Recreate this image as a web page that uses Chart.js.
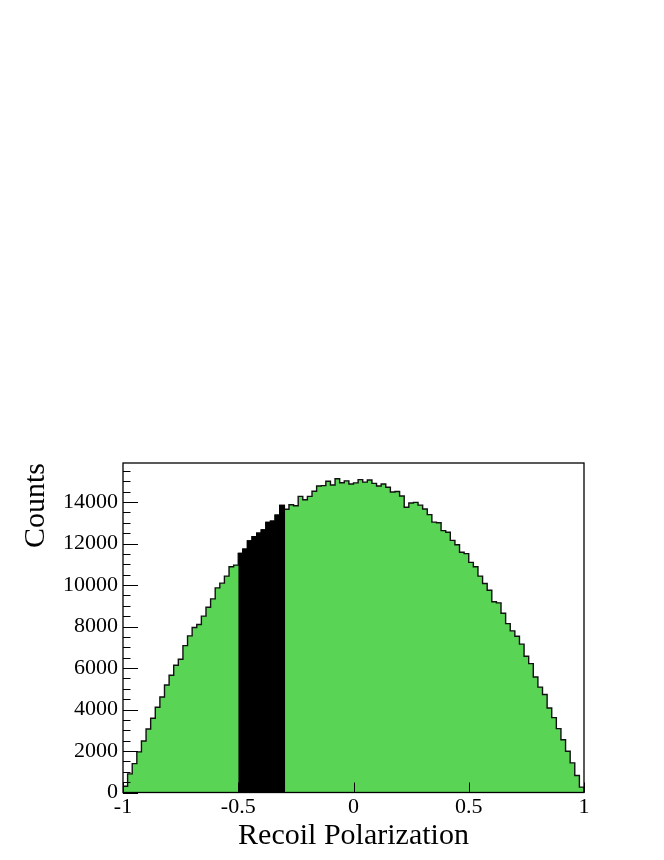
<!DOCTYPE html>
<html lang="en">
<head>
  <meta charset="UTF-8" />
  <title>Recoil Polarization</title>
  <script src="https://cdn.jsdelivr.net/npm/chart.js"></script>
  <style>
    html, body { margin: 0; padding: 0; background: #fff; }
    #wrap { width: 664px; height: 860px; }
  </style>
</head>
<body>
  <div id="wrap"><canvas id="histo" width="664" height="860"></canvas></div>

  <script>
    // histogram range and bin contents (100 bins from -1 to 1)
    const xRange = [-1, 1];
    const counts = [
      300, 900, 1390, 1960, 2480, 3060, 3580, 4110, 4600, 5180,
      5650, 6130, 6420, 7080, 7550, 7950, 8100, 8500, 8930, 9330,
      9860, 10090, 10430, 10880, 10960, 11520, 11720, 12120, 12330, 12500,
      12650, 13020, 13080, 13370, 13840, 13650, 13870, 13820, 14270, 14110,
      14270, 14520, 14770, 14790, 15000, 14820, 15120, 14930, 15020, 14870,
      14920, 15080, 14960, 15060, 14900, 14770, 14870, 14710, 14480, 14510,
      14290, 13750, 13950, 13980, 13850, 13660, 13390, 13030, 13000, 12620,
      12540, 12150, 11940, 11580, 11510, 11090, 10880, 10430, 10070, 9750,
      9190, 9140, 8640, 8140, 7790, 7530, 7150, 6570, 6210, 5570,
      5080, 4720, 4070, 3610, 3080, 2540, 1990, 1430, 820, 260
    ];
    // selected slice drawn in black
    const selRange = [-0.5, -0.3];

    const xTickValues = [-1, -0.5, 0, 0.5, 1];
    const xTickLabels = ['-1', '-0.5', '0', '0.5', '1'];
    const yTickValues = [0, 2000, 4000, 6000, 8000, 10000, 12000, 14000];
    const yTickLabels = ['0', '2000', '4000', '6000', '8000', '10000', '12000', '14000'];
    const yMinorStep = 500;
    const yMax = 15880;

    const nBins = counts.length;
    const binWidth = (xRange[1] - xRange[0]) / nBins;
    const edge = i => xRange[0] + i * binWidth;

    const allPoints = counts.map((c, i) => ({ x: edge(i), y: c }));
    allPoints.push({ x: xRange[1], y: 0 });

    const selFirst = Math.round((selRange[0] - xRange[0]) / binWidth);
    const selLast = Math.round((selRange[1] - xRange[0]) / binWidth);
    const selPoints = [];
    for (let i = selFirst; i < selLast; i++) selPoints.push({ x: edge(i), y: counts[i] });
    selPoints.push({ x: selRange[1], y: 0 });

    const serif = 'Liberation Serif';

    // frame + inward tick marks, ROOT style
    const frame = {
      id: 'frame',
      afterDatasetsDraw(chart) {
        const { ctx, chartArea: a, scales: { x, y } } = chart;
        ctx.save();
        ctx.strokeStyle = '#000';
        ctx.lineWidth = 1;
        ctx.beginPath();
        for (let v = 0; v <= yMax; v += yMinorStep) {
          const py = Math.round(y.getPixelForValue(v)) + 0.5;
          const len = yTickValues.includes(v) ? 15 : 7.5;
          ctx.moveTo(a.left, py);
          ctx.lineTo(a.left + len, py);
        }
        xTickValues.forEach(v => {
          const px = Math.round(x.getPixelForValue(v)) + 0.5;
          ctx.moveTo(px, a.bottom);
          ctx.lineTo(px, a.bottom - 10);
        });
        ctx.stroke();
        ctx.lineWidth = 1.3;
        ctx.strokeRect(a.left, a.top, a.right - a.left, a.bottom - a.top);
        ctx.restore();
      }
    };

    new Chart(document.getElementById('histo'), {
      type: 'line',
      data: {
        datasets: [
          {
            data: selPoints,
            stepped: true,
            fill: 'origin',
            backgroundColor: '#000',
            borderColor: '#000',
            borderWidth: 1.4,
            pointRadius: 0
          },
          {
            data: allPoints,
            stepped: true,
            fill: 'origin',
            backgroundColor: '#59d454',
            borderColor: '#111',
            borderWidth: 1.4,
            pointRadius: 0
          }
        ]
      },
      options: {
        responsive: false,
        animation: false,
        layout: { padding: { left: 0, right: 80, top: 463, bottom: 0 } },
        plugins: {
          legend: { display: false },
          tooltip: { enabled: false }
        },
        scales: {
          x: {
            type: 'linear',
            min: xRange[0],
            max: xRange[1],
            grid: { display: false, drawTicks: false },
            border: { display: false },
            afterBuildTicks: s => { s.ticks = xTickValues.map(v => ({ value: v })); },
            afterFit: s => { s.height = 67.5; },
            ticks: {
              padding: 2,
              color: '#000',
              autoSkip: false,
              maxRotation: 0,
              font: { family: serif, size: 22 },
              callback: (v, i) => xTickLabels[i]
            },
            title: {
              display: true,
              text: 'Recoil Polarization',
              color: '#000',
              font: { family: serif, size: 30 },
              padding: { top: 0, bottom: 6 }
            }
          },
          y: {
            min: 0,
            max: yMax,
            grid: { display: false, drawTicks: false },
            border: { display: false },
            afterBuildTicks: s => { s.ticks = yTickValues.map(v => ({ value: v })); },
            afterFit: s => { s.width = 123; },
            ticks: {
              padding: 5,
              color: '#000',
              font: { family: serif, size: 22 },
              callback: (v, i) => yTickLabels[i]
            },
            title: {
              display: true,
              text: 'Counts',
              align: 'end',
              color: '#000',
              font: { family: serif, size: 30 },
              padding: { top: 18, bottom: 0 }
            }
          }
        }
      },
      plugins: [frame]
    });
  </script>
</body>
</html>
